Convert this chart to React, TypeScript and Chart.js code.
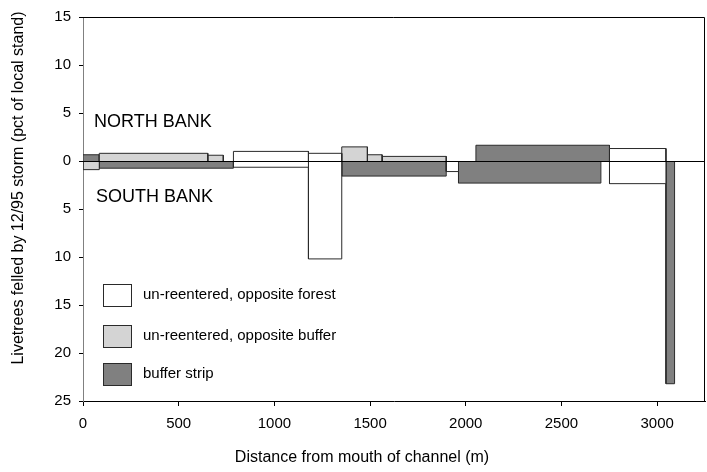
import { useEffect, useRef } from 'react';
import { Chart, registerables } from 'chart.js';

Chart.register(...registerables);

const FONT = '"Liberation Sans", Arial, Helvetica, sans-serif';

// axis ticks
const xTicks = [0, 500, 1000, 1500, 2000, 2500, 3000];
const yTicks = [-25, -20, -15, -10, -5, 0, 5, 10, 15];

// series names and colours
const seriesNames = ['un-reentered, opposite forest', 'un-reentered, opposite buffer', 'buffer strip'];
const seriesColors = ['#ffffff', '#d4d4d4', '#808080'];

// un-reentered, opposite forest (positive = north bank, negative = south bank)
const forestStart = [786, 1178, 2751, 786, 1178, 1898, 2751];
const forestEnd = [1178, 1352, 3046, 1178, 1352, 1962, 3046];
const forestValue = [1.0, 0.8, 1.3, -0.65, -10.2, -1.1, -2.36];

// un-reentered, opposite buffer
const oppBufferStart = [85, 652, 1352, 1486, 1563, 0];
const oppBufferEnd = [652, 733, 1486, 1563, 1898, 85];
const oppBufferValue = [0.8, 0.6, 1.47, 0.65, 0.48, -0.9];

// buffer strip
const bufferStart = [0, 2053, 85, 1352, 1962, 3046];
const bufferEnd = [85, 2751, 786, 1898, 2706, 3091];
const bufferValue = [0.65, 1.64, -0.75, -1.57, -2.3, -23.2];

function rects(starts: number[], ends: number[], values: number[], color: string, name: string) {
  return starts.map((s, i) => ({
    label: name,
    data: [
      { x: s, y: 0 },
      { x: s, y: values[i] },
      { x: ends[i], y: values[i] },
      { x: ends[i], y: 0 },
    ],
    borderColor: '#2a2a2a',
    borderWidth: 1,
    backgroundColor: color,
    fill: 'origin',
    pointRadius: 0,
    pointHoverRadius: 0,
    tension: 0,
  }));
}

const decorPlugin = {
  id: 'decor',
  afterDatasetsDraw(chart: any) {
    const ctx = chart.ctx;
    const { left, right, top, bottom } = chart.chartArea;
    const y0 = chart.scales.y.getPixelForValue(0);
    ctx.save();
    // zero line
    ctx.strokeStyle = '#000';
    ctx.lineWidth = 1;
    ctx.beginPath();
    ctx.moveTo(left, Math.round(y0) + 0.5);
    ctx.lineTo(right, Math.round(y0) + 0.5);
    ctx.stroke();
    // frame top & right
    ctx.beginPath();
    ctx.moveTo(left, top + 0.5);
    ctx.lineTo(right - 0.5, top + 0.5);
    ctx.lineTo(right - 0.5, bottom);
    ctx.stroke();

    // bank labels
    ctx.fillStyle = '#000';
    ctx.textAlign = 'left';
    ctx.textBaseline = 'middle';
    ctx.font = `18px ${FONT}`;
    ctx.fillText('NORTH BANK', 94, 122);
    ctx.fillText('SOUTH BANK', 96, 197);

    // legend
    const rowsY = [295, 336, 374];
    ctx.font = `15px ${FONT}`;
    seriesNames.forEach((name, i) => {
      ctx.fillStyle = seriesColors[i];
      ctx.fillRect(103, rowsY[i] - 11, 28, 22);
      ctx.strokeStyle = '#2a2a2a';
      ctx.strokeRect(103.5, rowsY[i] - 10.5, 28, 22);
      ctx.fillStyle = '#000';
      ctx.fillText(name, 143, rowsY[i]);
    });

    // axis titles
    ctx.textAlign = 'center';
    ctx.font = `16px ${FONT}`;
    ctx.fillText('Distance from mouth of channel (m)', 362, 458);
    ctx.translate(19, 188);
    ctx.rotate(-Math.PI / 2);
    ctx.fillText('Livetrees felled by 12/95 storm (pct of local stand)', 0, 0);
    ctx.restore();
  },
};

export default function App() {
  const ref = useRef<HTMLCanvasElement>(null);
  useEffect(() => {
    document.body.style.margin = '0';
    const datasets = [
      ...rects(forestStart, forestEnd, forestValue, seriesColors[0], seriesNames[0]),
      ...rects(oppBufferStart, oppBufferEnd, oppBufferValue, seriesColors[1], seriesNames[1]),
      ...rects(bufferStart, bufferEnd, bufferValue, seriesColors[2], seriesNames[2]),
    ];
    const chart = new Chart(ref.current!, {
      type: 'line',
      data: { datasets } as any,
      options: {
        animation: false,
        responsive: false,
        maintainAspectRatio: false,
        layout: { padding: { left: 0, right: 2, top: 11, bottom: 0 } },
        plugins: { legend: { display: false }, tooltip: { enabled: false }, title: { display: false } },
        elements: { line: { tension: 0 } },
        scales: {
          x: {
            type: 'linear',
            min: 0,
            max: 3250,
            afterBuildTicks: (s: any) => {
              s.ticks = xTicks.map((v) => ({ value: v }));
            },
            afterFit: (s: any) => {
              s.height = 71;
            },
            grid: { drawOnChartArea: false, drawTicks: true, tickLength: 5, tickColor: '#000' },
            border: { color: '#000', width: 1 },
            ticks: {
              font: { family: FONT, size: 15 },
              color: '#000',
              padding: 9,
              maxRotation: 0,
              autoSkip: false,
              callback: (v: any) => String(v),
            },
          },
          y: {
            type: 'linear',
            min: -25,
            max: 15,
            afterBuildTicks: (s: any) => {
              s.ticks = yTicks.map((v) => ({ value: v }));
            },
            afterFit: (s: any) => {
              s.width = 83;
            },
            grid: { drawOnChartArea: false, drawTicks: true, tickLength: 4, tickColor: '#000' },
            border: { color: '#808080', width: 1 },
            ticks: {
              font: { family: FONT, size: 15 },
              color: '#000',
              padding: 8,
              callback: (v: any) => String(Math.abs(Number(v))),
            },
          },
        },
      },
      plugins: [decorPlugin],
    });
    return () => chart.destroy();
  }, []);
  return (
    <div style={{ position: 'absolute', left: 0, top: 0, width: 707, height: 472 }}>
      <canvas ref={ref} width={707} height={472} style={{ display: 'block' }} />
    </div>
  );
}
